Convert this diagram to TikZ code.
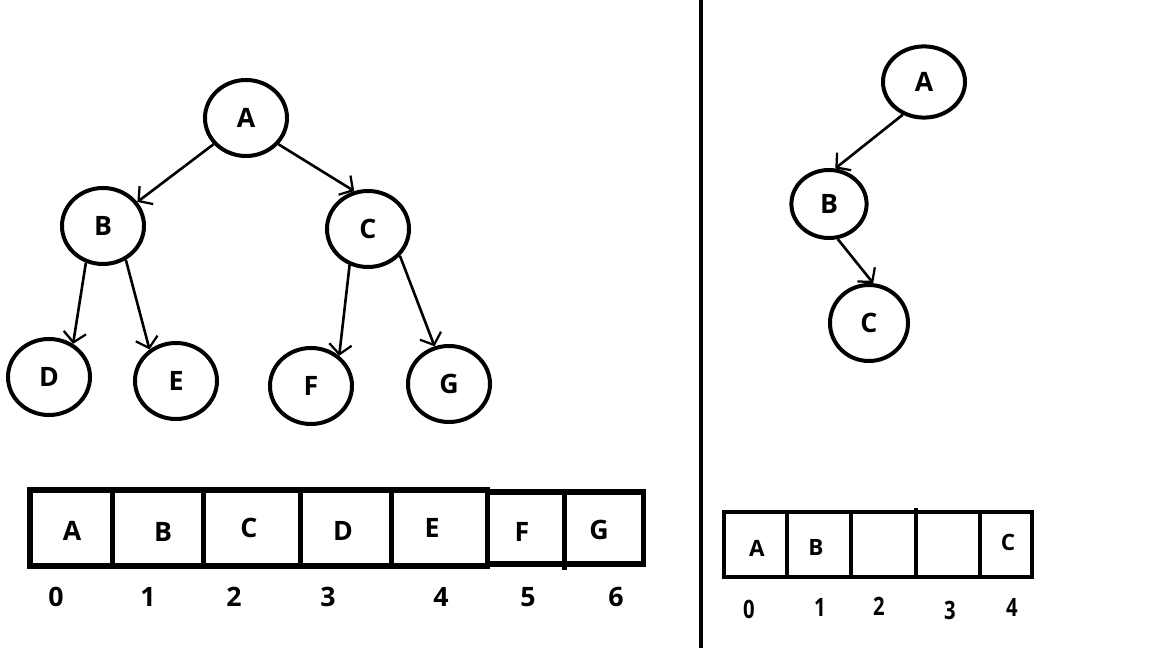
\documentclass[tikz,border=0pt]{standalone}
\usepackage{fontspec}
\setmainfont{Open Sans}
\usetikzlibrary{shapes.geometric,arrows.meta}
\tikzset{
  tnode/.style={draw, ellipse, line width=0.1cm, inner sep=0pt, minimum width=2.05cm, minimum height=1.9cm, font=\fontsize{19}{22}\selectfont\bfseries},
  edge/.style={line width=0.065cm, -{Straight Barb[length=7pt,width=16pt,line width=1.6pt]}},
  cell/.style={line width=0.125cm},
  cellR/.style={line width=0.1cm},
  lbl/.style={inner sep=0pt, font=\fontsize{19}{22}\selectfont\bfseries},
  lblR/.style={inner sep=0pt, font=\fontsize{16}{19}\selectfont\bfseries},
  idx/.style={inner sep=0pt, font=\fontsize{19}{22}\selectfont\bfseries},
  idxR/.style={inner sep=0pt, font=\fontsize{18}{21}\selectfont\bfseries, xscale=0.8}
}
\begin{document}
\begin{tikzpicture}[x=0.025cm, y=-0.025cm]
\useasboundingbox (0,0) rectangle (1152,648);
% divider
\coordinate (dtop) at (700.5,0);
\coordinate (dbot) at (700.5,648);
\draw[line width=0.1cm] (dtop) -- (dbot);

% left tree
\node[tnode] (A) at (246,118) {A};
\node[tnode] (B) at (103,226) {B};
\node[tnode] (C) at (368,229) {C};
\node[tnode] (D) at (49,377) {D};
\node[tnode] (E) at (176,381) {E};
\node[tnode] (F) at (311,386) {F};
\node[tnode] (G) at (449,384) {G};
\draw[edge] (A.219) -- (B.35);
\draw[edge] (A.321) -- (C.110);
\draw[edge] (B.245) -- (D.54);
\draw[edge] (B.304) -- (E.130);
\draw[edge] (C.243) -- (F.47);
\draw[edge] (C.320) -- (G.111);

% right tree
\node[tnode, minimum width=2.05cm, minimum height=1.78cm] (RA) at (924,82) {A};
\node[tnode, minimum width=1.88cm, minimum height=1.7cm] (RB) at (829,204) {B};
\node[tnode, minimum width=1.95cm, minimum height=1.9cm] (RC) at (869,323) {C};
\draw[edge] (RA.237) -- (RB.80);
\draw[edge] (RB.284) -- (RC.84);

% left array
\draw[cell] (30,490) rectangle (487,566);
\draw[cell] (487,492) rectangle (643,564);
\foreach \x in {112,203,300,391}{\draw[cell] (\x,490) -- (\x,566);}
\draw[cell] (564,492) -- (564,570);
\node[lbl] (a0) at (72,531) {A};
\node[lbl] (a1) at (163,532) {B};
\node[lbl] (a2) at (249,528) {C};
\node[lbl] (a3) at (343,531) {D};
\node[lbl] (a4) at (432,528) {E};
\node[lbl] (a5) at (522,532) {F};
\node[lbl] (a6) at (599,530) {G};
\node[idx] (i0) at (56,597) {0};
\node[idx] (i1) at (148,597) {1};
\node[idx] (i2) at (234,597) {2};
\node[idx] (i3) at (328,597) {3};
\node[idx] (i4) at (441,597) {4};
\node[idx] (i5) at (528,597) {5};
\node[idx] (i6) at (616,597) {6};

% right array
\draw[cellR] (724,512) rectangle (1032,577);
\foreach \x in {787,851,980}{\draw[cellR] (\x,512) -- (\x,577);}
\draw[cellR] (916,508) -- (916,577);
\node[lblR] (b0) at (757,548) {A};
\node[lblR] (b1) at (816,547) {B};
\node[lblR] (b4) at (1008,542) {C};
\node[idxR] (j0) at (749,609) {0};
\node[idxR] (j1) at (820,607) {1};
\node[idxR] (j2) at (879,606) {2};
\node[idxR] (j3) at (950,610) {3};
\node[idxR] (j4) at (1012,607) {4};
\end{tikzpicture}
\end{document}
